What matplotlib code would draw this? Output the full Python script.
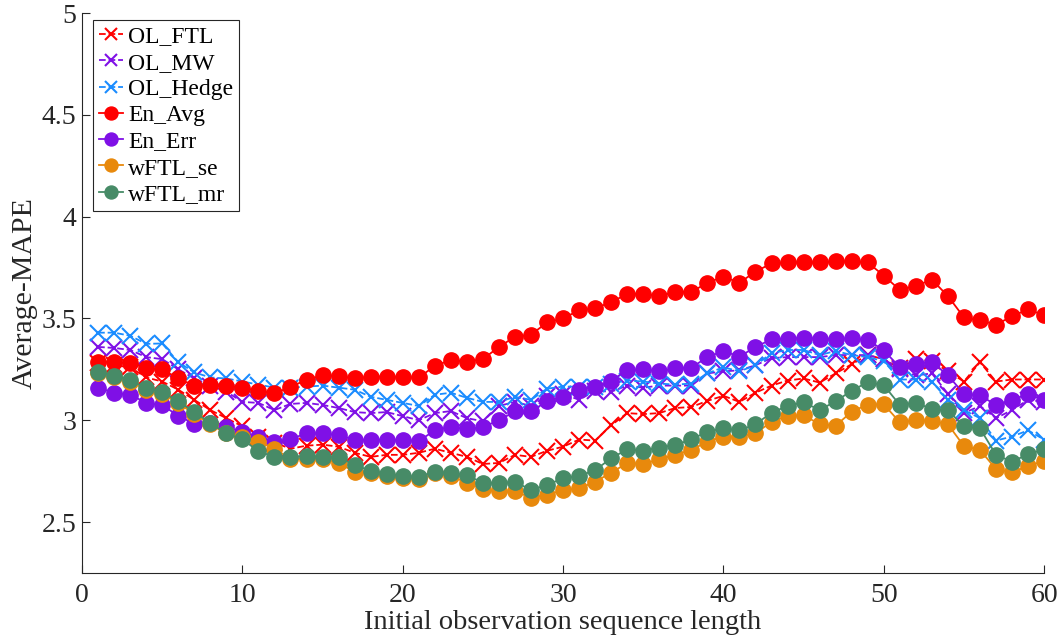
import matplotlib.pyplot as plt
import numpy as np

plt.rcParams['font.family'] = ['Liberation Serif', 'DejaVu Serif']

x = np.arange(1, 61)

ol_ftl = [3.28, 3.27, 3.26, 3.21, 3.19, 3.15, 3.10, 3.05, 3.01, 2.97,
          2.92, 2.89, 2.86, 2.875, 2.88, 2.87, 2.84, 2.82, 2.83, 2.83,
          2.84, 2.86, 2.84, 2.82, 2.785, 2.79, 2.83, 2.82, 2.85, 2.87,
          2.905, 2.90, 2.975, 3.035, 3.03, 3.035, 3.06, 3.065, 3.095, 3.12,
          3.09, 3.135, 3.17, 3.195, 3.205, 3.185, 3.23, 3.275, 3.32, 3.30,
          3.255, 3.30, 3.29, 3.24, 3.19, 3.285, 3.19, 3.20, 3.20, 3.20]
ol_mw = [3.36, 3.355, 3.345, 3.31, 3.30, 3.25, 3.205, 3.17, 3.14, 3.09,
         3.085, 3.05, 3.08, 3.085, 3.075, 3.06, 3.04, 3.035, 3.04, 3.02,
         3.00, 3.035, 3.045, 3.01, 2.995, 3.07, 3.09, 3.07, 3.12, 3.13,
         3.10, 3.145, 3.14, 3.17, 3.16, 3.17, 3.17, 3.17, 3.23, 3.24,
         3.245, 3.27, 3.305, 3.31, 3.31, 3.31, 3.32, 3.32, 3.32, 3.30,
         3.25, 3.22, 3.23, 3.13, 3.035, 3.07, 3.01, 3.05, 3.10, 3.09]
ol_hedge = [3.43, 3.43, 3.415, 3.375, 3.377, 3.285, 3.235, 3.21, 3.205, 3.19,
            3.175, 3.16, 3.16, 3.165, 3.17, 3.16, 3.15, 3.115, 3.10, 3.085,
            3.07, 3.125, 3.135, 3.11, 3.09, 3.09, 3.115, 3.10, 3.155, 3.165,
            3.165, 3.165, 3.18, 3.195, 3.19, 3.18, 3.175, 3.18, 3.23, 3.26,
            3.24, 3.27, 3.33, 3.345, 3.345, 3.32, 3.34, 3.32, 3.31, 3.29,
            3.20, 3.20, 3.19, 3.10, 3.05, 3.01, 2.90, 2.92, 2.95, 2.905]
en_avg = [3.287, 3.284, 3.283, 3.255, 3.25, 3.205, 3.17, 3.172, 3.168, 3.16,
          3.142, 3.133, 3.162, 3.2, 3.22, 3.217, 3.205, 3.214, 3.214, 3.21,
          3.21, 3.266, 3.296, 3.287, 3.30, 3.36, 3.41, 3.42, 3.48, 3.50,
          3.54, 3.55, 3.58, 3.62, 3.62, 3.61, 3.63, 3.63, 3.675, 3.705,
          3.675, 3.73, 3.77, 3.775, 3.775, 3.775, 3.78, 3.78, 3.775, 3.71,
          3.64, 3.66, 3.69, 3.61, 3.505, 3.49, 3.47, 3.51, 3.545, 3.515]
en_err = [3.16, 3.134, 3.126, 3.085, 3.074, 3.022, 2.982, 2.985, 2.968, 2.94,
          2.917, 2.895, 2.908, 2.935, 2.935, 2.927, 2.903, 2.903, 2.903, 2.903,
          2.898, 2.95, 2.968, 2.955, 2.966, 3.0, 3.043, 3.043, 3.093, 3.116,
          3.15, 3.165, 3.195, 3.245, 3.25, 3.24, 3.255, 3.258, 3.31, 3.34,
          3.312, 3.36, 3.397, 3.40, 3.405, 3.40, 3.40, 3.402, 3.394, 3.343,
          3.26, 3.278, 3.287, 3.22, 3.13, 3.122, 3.075, 3.10, 3.128, 3.10]
wftl_se = [3.23, 3.21, 3.19, 3.15, 3.13, 3.085, 3.03, 2.98, 2.935, 2.92,
           2.895, 2.86, 2.81, 2.81, 2.81, 2.79, 2.747, 2.74, 2.726, 2.715,
           2.71, 2.74, 2.725, 2.693, 2.66, 2.65, 2.65, 2.62, 2.633, 2.657,
           2.665, 2.698, 2.742, 2.79, 2.785, 2.808, 2.83, 2.854, 2.895, 2.92,
           2.92, 2.935, 2.993, 3.02, 3.025, 2.98, 2.973, 3.042, 3.077, 3.078,
           2.99, 3.0, 2.997, 2.98, 2.873, 2.854, 2.76, 2.744, 2.775, 2.80]
wftl_mr = [3.238, 3.218, 3.198, 3.157, 3.14, 3.092, 3.042, 2.985, 2.935, 2.906,
           2.848, 2.82, 2.82, 2.824, 2.82, 2.818, 2.78, 2.752, 2.736, 2.726,
           2.722, 2.747, 2.741, 2.73, 2.693, 2.69, 2.698, 2.657, 2.682, 2.715,
           2.726, 2.755, 2.813, 2.857, 2.85, 2.866, 2.878, 2.906, 2.944, 2.96,
           2.95, 2.98, 3.037, 3.07, 3.088, 3.05, 3.093, 3.145, 3.187, 3.172,
           3.075, 3.087, 3.054, 3.048, 2.97, 2.96, 2.83, 2.796, 2.833, 2.857]

fig = plt.figure(figsize=(10.6, 6.38), dpi=100)
ax = fig.add_axes([0.0774, 0.102, 0.9076, 0.8776])

ms = 11
ax.plot(x, ol_ftl, '--x', color='#FF0000', lw=1.3, ms=ms, mew=1.5, label='OL_FTL')
ax.plot(x, ol_mw, '--x', color='#7F10E6', lw=1.3, ms=ms, mew=1.5, label='OL_MW')
ax.plot(x, ol_hedge, '--x', color='#1A8CFF', lw=1.3, ms=ms, mew=1.5, label='OL_Hedge')
ax.plot(x, en_avg, '-o', color='#FF0000', lw=1.3, ms=ms, label='En_Avg')
ax.plot(x, en_err, '-o', color='#7F10E6', lw=1.3, ms=ms, label='En_Err')
ax.plot(x, wftl_se, '-o', color='#E8890C', lw=1.3, ms=ms, label='wFTL_se')
ax.plot(x, wftl_mr, '-o', color='#478B67', lw=1.3, ms=ms, label='wFTL_mr')

ax.set_xlim(0, 60)
ax.set_ylim(2.25, 5)
ax.set_xticks([0, 10, 20, 30, 40, 50, 60])
ax.set_yticks([2.5, 3, 3.5, 4, 4.5, 5])
ax.set_yticklabels(['2.5', '3', '3.5', '4', '4.5', '5'])
ax.spines['top'].set_visible(False)
ax.spines['right'].set_visible(False)
ax.spines['left'].set_color('#262626')
ax.spines['bottom'].set_color('#262626')
ax.tick_params(direction='in', length=6, labelsize=20, colors='#262626')
ax.tick_params(axis='x', pad=7)
ax.tick_params(axis='y', pad=4)
ax.set_xlabel('Initial observation sequence length', fontsize=20.5, color='#262626', labelpad=2)
ax.set_ylabel('Average-MAPE', fontsize=21.5, color='#262626', labelpad=3)

leg = ax.legend(loc='upper left', bbox_to_anchor=(0.011, 0.9875), borderaxespad=0,
                fontsize=17, handlelength=1.05, handletextpad=0.2, borderpad=0.25,
                labelspacing=0.2, fancybox=False, framealpha=1, edgecolor='#262626',
                markerscale=0.85)
leg.get_frame().set_linewidth(0.8)

fig.savefig('out.png', dpi=100)
